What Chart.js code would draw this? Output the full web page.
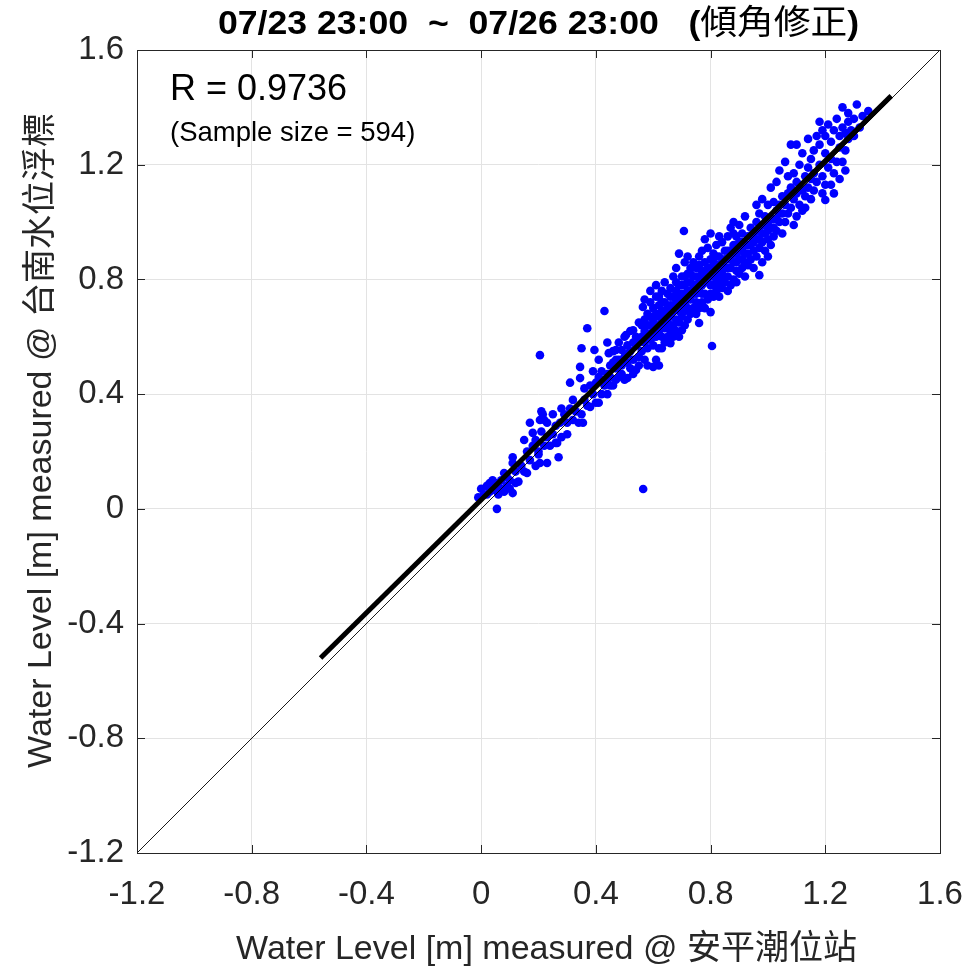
<!DOCTYPE html>
<html>
<head>
<meta charset="utf-8">
<title>Water level scatter</title>
<script src="https://cdn.jsdelivr.net/npm/chart.js@4.4.1/dist/chart.umd.min.js"></script>
<style>
  html, body { margin: 0; padding: 0; background: #fff; }
  #wrap { width: 973px; height: 967px; position: relative; }
</style>
</head>
<body>
<div id="wrap"><canvas id="levelChart"></canvas></div>
<script>
// axis ticks (same for both axes)
const tickValues = [-1.2, -0.8, -0.4, 0, 0.4, 0.8, 1.2, 1.6];
const axisMin = -1.2;
const axisMax = 1.6;

// [安平潮位站, 台南水位浮標] water level pairs, metres
const levelPairs = [
  [-0.01,0.04],[0.00,0.07],[0.01,0.05],[0.02,0.08],[0.02,0.05],[0.03,0.09],[0.03,0.06],[0.04,0.07],
  [0.04,0.10],[0.05,0.065],[0.05,0.09],[0.055,0.00],[0.06,0.08],[0.06,0.05],[0.07,0.10],[0.07,0.07],
  [0.08,0.125],[0.08,0.06],[0.09,0.08],[0.09,0.11],[0.10,0.10],[0.10,0.07],[0.11,0.055],[0.11,0.16],
  [0.11,0.18],[0.12,0.09],[0.12,0.13],[0.13,0.095],
  [0.14,0.15],[0.15,0.13],[0.15,0.24],[0.16,0.125],[0.16,0.20],[0.17,0.30],[0.17,0.17],[0.18,0.265],
  [0.18,0.22],[0.19,0.24],[0.19,0.15],[0.20,0.20],[0.20,0.19],[0.205,0.31],[0.205,0.16],[0.205,0.536],
  [0.21,0.27],[0.21,0.34],[0.215,0.33],[0.22,0.22],[0.22,0.31],[0.23,0.30],[0.23,0.16],[0.23,0.25],
  [0.24,0.22],[0.25,0.33],[0.25,0.26],[0.26,0.23],[0.26,0.29],[0.265,0.23],[0.27,0.18],[0.275,0.30],
  [0.28,0.35],[0.28,0.25],[0.29,0.33],[0.30,0.26],[0.30,0.30],
  [0.31,0.35],[0.31,0.44],[0.32,0.31],[0.32,0.38],[0.33,0.34],[0.34,0.30],[0.345,0.456],[0.345,0.495],
  [0.35,0.56],[0.35,0.33],[0.355,0.30],[0.36,0.38],[0.36,0.42],[0.37,0.63],[0.37,0.36],[0.38,0.355],
  [0.38,0.43],[0.39,0.48],[0.39,0.40],[0.395,0.554],[0.40,0.44],[0.40,0.37],[0.41,0.52],[0.41,0.37],
  [0.41,0.46],[0.42,0.40],[0.42,0.45],[0.42,0.48],[0.43,0.69],[0.43,0.43],[0.44,0.58],[0.44,0.40],
  [0.44,0.47],[0.44,0.44],[0.445,0.543],[0.45,0.50],[0.45,0.43],[0.45,0.46],
  [0.46,0.43],[0.46,0.51],[0.46,0.55],[0.47,0.49],[0.47,0.554],[0.47,0.45],[0.47,0.52],[0.48,0.46],
  [0.48,0.52],[0.48,0.58],[0.49,0.50],[0.49,0.554],[0.49,0.47],[0.50,0.53],[0.50,0.60],[0.50,0.45],
  [0.505,0.606],[0.51,0.456],[0.51,0.51],[0.51,0.54],[0.51,0.57],[0.52,0.49],[0.52,0.55],[0.52,0.62],
  [0.53,0.623],[0.53,0.52],[0.53,0.58],[0.53,0.47],[0.54,0.484],[0.54,0.57],[0.54,0.60],[0.55,0.53],
  [0.55,0.65],[0.55,0.50],[0.55,0.58],
  [0.564,0.704],[0.565,0.069],[0.56,0.55],[0.56,0.60],[0.56,0.64],[0.57,0.52],[0.57,0.58],[0.57,0.62],
  [0.57,0.66],[0.57,0.73],[0.58,0.56],[0.58,0.61],[0.58,0.64],[0.58,0.68],[0.58,0.50],[0.59,0.59],
  [0.59,0.64],[0.59,0.67],[0.59,0.72],[0.59,0.76],[0.60,0.495],[0.60,0.57],[0.60,0.60],[0.60,0.62],
  [0.60,0.66],[0.60,0.70],[0.61,0.52],[0.61,0.60],[0.61,0.64],[0.61,0.68],[0.61,0.74],[0.61,0.78],
  [0.62,0.50],[0.62,0.56],[0.62,0.62],[0.62,0.64],[0.62,0.67],[0.62,0.71],[0.62,0.74],[0.63,0.56],
  [0.63,0.60],[0.63,0.65],[0.63,0.69],[0.63,0.72],[0.63,0.76],[0.64,0.58],[0.64,0.63],[0.64,0.67],
  [0.64,0.69],[0.64,0.72],[0.64,0.79],[0.65,0.60],[0.65,0.65],[0.65,0.68],[0.65,0.70],[0.65,0.75],
  [0.66,0.578],[0.66,0.62],[0.66,0.64],[0.66,0.67],[0.66,0.71],[0.66,0.74],[0.66,0.77],[0.67,0.60],
  [0.67,0.64],[0.67,0.69],[0.67,0.71],[0.67,0.74],[0.67,0.81],[0.68,0.62],[0.68,0.66],[0.68,0.70],
  [0.68,0.73],[0.68,0.76],[0.68,0.79],[0.68,0.84],[0.69,0.60],[0.69,0.65],[0.69,0.69],[0.69,0.72],
  [0.69,0.75],[0.69,0.78],[0.69,0.89],[0.70,0.623],[0.70,0.67],[0.70,0.71],[0.70,0.73],[0.70,0.75],
  [0.70,0.78],[0.70,0.81],[0.707,0.969],[0.71,0.64],[0.71,0.69],[0.71,0.72],[0.71,0.74],[0.71,0.78],
  [0.71,0.81],[0.71,0.86],[0.72,0.66],[0.72,0.70],[0.72,0.73],[0.72,0.76],[0.72,0.79],[0.72,0.82],
  [0.72,0.88],[0.73,0.68],[0.73,0.73],[0.73,0.76],[0.73,0.79],[0.73,0.82],[0.73,0.84],[0.74,0.70],
  [0.74,0.75],[0.74,0.78],[0.74,0.81],[0.74,0.86],[0.75,0.68],[0.75,0.72],[0.75,0.75],[0.75,0.78],
  [0.75,0.81],[0.75,0.84],
  [0.76,0.648],[0.76,0.70],[0.76,0.76],[0.76,0.79],[0.76,0.81],[0.76,0.85],[0.76,0.88],[0.77,0.72],
  [0.77,0.75],[0.77,0.78],[0.77,0.81],[0.77,0.83],[0.77,0.90],[0.78,0.70],[0.78,0.75],[0.78,0.80],
  [0.78,0.83],[0.78,0.86],[0.78,0.94],[0.79,0.73],[0.79,0.79],[0.79,0.81],[0.79,0.84],[0.79,0.91],
  [0.80,0.686],[0.80,0.75],[0.80,0.78],[0.80,0.81],[0.80,0.84],[0.80,0.87],[0.80,0.96],[0.805,0.568],
  [0.81,0.74],[0.81,0.78],[0.81,0.83],[0.81,0.86],[0.81,0.89],[0.82,0.76],[0.82,0.80],[0.82,0.82],
  [0.82,0.85],[0.82,0.88],[0.82,0.92],[0.83,0.74],[0.83,0.78],[0.83,0.83],[0.83,0.88],[0.83,0.95],
  [0.84,0.77],[0.84,0.80],[0.84,0.82],[0.84,0.86],[0.84,0.93],[0.85,0.79],[0.85,0.84],[0.85,0.87],
  [0.85,0.90],
  [0.86,0.76],[0.86,0.81],[0.86,0.84],[0.86,0.87],[0.86,0.90],[0.86,0.95],[0.87,0.78],[0.87,0.84],
  [0.87,0.87],[0.87,0.90],[0.87,0.98],[0.88,0.80],[0.88,0.86],[0.88,0.89],[0.88,0.92],[0.88,0.96],
  [0.88,1.00],[0.89,0.79],[0.89,0.83],[0.89,0.86],[0.89,0.89],[0.89,0.95],[0.90,0.82],[0.90,0.87],
  [0.90,0.90],[0.90,0.93],[0.90,0.99],[0.91,0.84],[0.91,0.87],[0.91,0.90],[0.91,0.93],[0.91,0.96],
  [0.92,0.81],[0.92,0.86],[0.92,0.89],[0.92,0.92],[0.92,1.02],[0.93,0.85],[0.93,0.89],[0.93,0.92],
  [0.93,0.95],[0.94,0.87],[0.94,0.92],[0.94,0.95],[0.94,0.98],[0.95,0.84],[0.95,0.90],[0.95,0.93],
  [0.95,0.96],
  [0.96,0.88],[0.96,0.94],[0.96,0.97],[0.96,1.00],[0.96,1.06],[0.97,0.815],[0.97,0.91],[0.97,0.94],
  [0.97,0.97],[0.97,1.03],[0.98,0.86],[0.98,0.93],[0.98,0.96],[0.98,0.99],[0.98,1.08],[0.99,0.90],
  [0.99,0.96],[0.99,0.99],[0.99,1.02],[1.00,0.88],[1.00,0.94],[1.00,0.97],[1.00,1.00],[1.00,1.06],
  [1.01,0.92],[1.01,0.98],[1.01,1.01],[1.01,1.12],[1.02,0.95],[1.02,0.98],[1.02,1.01],[1.02,1.07],
  [1.03,0.97],[1.03,1.01],[1.03,1.04],[1.03,1.14],[1.04,1.00],[1.04,1.03],[1.04,1.06],[1.04,1.18],
  [1.05,0.96],[1.05,1.03],[1.05,1.09],
  [1.06,1.21],[1.06,1.00],[1.06,1.06],[1.07,1.03],[1.07,1.10],[1.07,1.16],[1.08,1.27],[1.08,1.05],
  [1.08,1.12],[1.09,0.99],[1.09,1.08],[1.09,1.17],[1.10,1.27],[1.10,1.02],[1.10,1.10],[1.10,1.14],
  [1.11,1.06],[1.11,1.13],[1.11,1.20],[1.12,1.04],[1.12,1.11],[1.12,1.24],[1.13,1.05],[1.13,1.09],
  [1.13,1.16],[1.14,1.12],[1.14,1.19],[1.14,1.29],[1.15,1.08],[1.15,1.15],[1.15,1.22],
  [1.16,1.11],[1.16,1.17],[1.16,1.25],[1.17,1.30],[1.17,1.14],[1.18,1.35],[1.18,1.20],[1.18,1.27],
  [1.19,1.10],[1.19,1.16],[1.19,1.32],[1.20,1.077],[1.20,1.13],[1.20,1.24],[1.20,1.30],[1.21,1.19],
  [1.21,1.34],[1.22,1.13],[1.22,1.22],[1.22,1.28],[1.23,1.10],[1.23,1.17],[1.23,1.32],[1.24,1.21],
  [1.24,1.36],[1.25,1.15],[1.25,1.26],[1.25,1.30],
  [1.26,1.40],[1.26,1.21],[1.26,1.33],[1.27,1.18],[1.27,1.25],[1.27,1.31],[1.28,1.29],[1.28,1.35],
  [1.28,1.38],[1.29,1.32],[1.30,1.36],[1.31,1.41],[1.30,1.30],[1.32,1.33],[1.33,1.37],[1.35,1.387]
];

// regression line end points and 1:1 reference line
const fitX = [-0.56, 1.43];
const fitY = [-0.52, 1.44];
const diagX = [axisMin, axisMax];
const diagY = [axisMin, axisMax];

const titleDate = "07/23 23:00  ~  07/26 23:00   (";
const titleNote = "傾角修正";
const xTitle = "Water Level [m] measured @ 安平潮位站";
const yTitle = "Water Level [m] measured @ 台南水位浮標";
const rText = "R = 0.9736";
const sizeText = "(Sample size = 594)";

const axisColor = "#262626";
const labelFont = "'Liberation Sans', 'Noto Sans CJK TC', sans-serif";

function toPoints(xs, ys) {
  return xs.map((x, i) => ({ x: x, y: ys[i] }));
}

// title: bold latin part, lighter CJK part, closing bracket; slightly widened
function drawTitle(ctx, cx, y) {
  const boldFont = "bold 33px 'Liberation Sans', sans-serif";
  const cjkFont = "34px 'Noto Sans CJK TC', sans-serif";
  const stretch = 1.08;
  ctx.font = boldFont;
  const w1 = ctx.measureText(titleDate).width;
  const w3 = ctx.measureText(")").width;
  ctx.font = cjkFont;
  const w2 = ctx.measureText(titleNote).width;
  ctx.save();
  ctx.translate(cx, y);
  ctx.scale(stretch, 1);
  let x = -(w1 + w2 + w3) / 2;
  ctx.textAlign = "left";
  ctx.font = boldFont;
  ctx.fillText(titleDate, x, 0);
  x += w1;
  ctx.font = cjkFont;
  ctx.fillText(titleNote, x, 0);
  x += w2;
  ctx.font = boldFont;
  ctx.fillText(")", x, 0);
  ctx.restore();
}

// box, inward tick marks and all free text
const decorations = {
  id: "decorations",
  afterDraw(chart) {
    const ctx = chart.ctx;
    const a = chart.chartArea;
    const sx = chart.scales.x;
    const sy = chart.scales.y;
    const tl = 8;

    ctx.save();
    ctx.strokeStyle = axisColor;
    ctx.lineWidth = 1;
    ctx.beginPath();
    tickValues.forEach(v => {
      const px = Math.round(sx.getPixelForValue(v)) + 0.5;
      ctx.moveTo(px, a.bottom); ctx.lineTo(px, a.bottom - tl);
      ctx.moveTo(px, a.top); ctx.lineTo(px, a.top + tl);
      const py = Math.round(sy.getPixelForValue(v)) + 0.5;
      ctx.moveTo(a.left, py); ctx.lineTo(a.left + tl, py);
      ctx.moveTo(a.right, py); ctx.lineTo(a.right - tl, py);
    });
    ctx.stroke();
    ctx.strokeRect(Math.round(a.left) + 0.5, Math.round(a.top) + 0.5,
      Math.round(a.right - a.left), Math.round(a.bottom - a.top));

    const cx = (a.left + a.right) / 2;
    const cy = (a.top + a.bottom) / 2;

    ctx.fillStyle = "#000";
    ctx.textBaseline = "alphabetic";
    drawTitle(ctx, cx, 34);

    ctx.fillStyle = axisColor;
    ctx.textAlign = "center";
    ctx.font = "34px " + labelFont;
    ctx.fillText(xTitle, cx + 8, 959);

    ctx.save();
    ctx.translate(51, cy - 11);
    ctx.rotate(-Math.PI / 2);
    ctx.fillText(yTitle, 0, 0);
    ctx.restore();

    ctx.fillStyle = "#000";
    ctx.textAlign = "left";
    ctx.font = "36px " + labelFont;
    ctx.fillText(rText, 170, 100);
    ctx.font = "27.5px " + labelFont;
    ctx.fillText(sizeText, 170, 141);
    ctx.restore();
  }
};

function axisOptions(isX) {
  return {
    type: "linear",
    min: axisMin,
    max: axisMax,
    afterBuildTicks: scale => { scale.ticks = tickValues.map(v => ({ value: v })); },
    afterFit: scale => {
      if (isX) {
        scale.height = 114;
        scale.paddingLeft = 0;
        scale.paddingRight = 0;
      } else {
        scale.width = 137;
        scale.paddingTop = 0;
        scale.paddingBottom = 0;
      }
    },
    grid: { color: "#e3e3e3", lineWidth: 1, drawTicks: false },
    border: { display: false },
    ticks: {
      color: axisColor,
      padding: isX ? 22 : 13,
      font: { family: labelFont, size: 33 },
      callback: v => String(Number(v.toFixed(1)))
    }
  };
}

const ctx = document.getElementById("levelChart").getContext("2d");
new Chart(ctx, {
  type: "scatter",
  data: {
    datasets: [
      {
        data: toPoints(fitX, fitY),
        showLine: true,
        borderColor: "#000",
        borderWidth: 5,
        pointRadius: 0,
        order: 1
      },
      {
        data: toPoints(diagX, diagY),
        showLine: true,
        borderColor: "#000",
        borderWidth: 0.9,
        pointRadius: 0,
        order: 2
      },
      {
        data: levelPairs.map(p => ({ x: p[0], y: p[1] })),
        backgroundColor: "#0000ff",
        borderWidth: 0,
        pointRadius: 4.3,
        pointHoverRadius: 4.3,
        order: 3
      }
    ]
  },
  options: {
    responsive: true,
    maintainAspectRatio: false,
    animation: false,
    events: [],
    layout: { padding: { left: 0, right: 33, top: 50, bottom: 0 } },
    plugins: {
      legend: { display: false },
      tooltip: { enabled: false },
      title: { display: false }
    },
    scales: {
      x: axisOptions(true),
      y: axisOptions(false)
    }
  },
  plugins: [decorations]
});
</script>
</body>
</html>
